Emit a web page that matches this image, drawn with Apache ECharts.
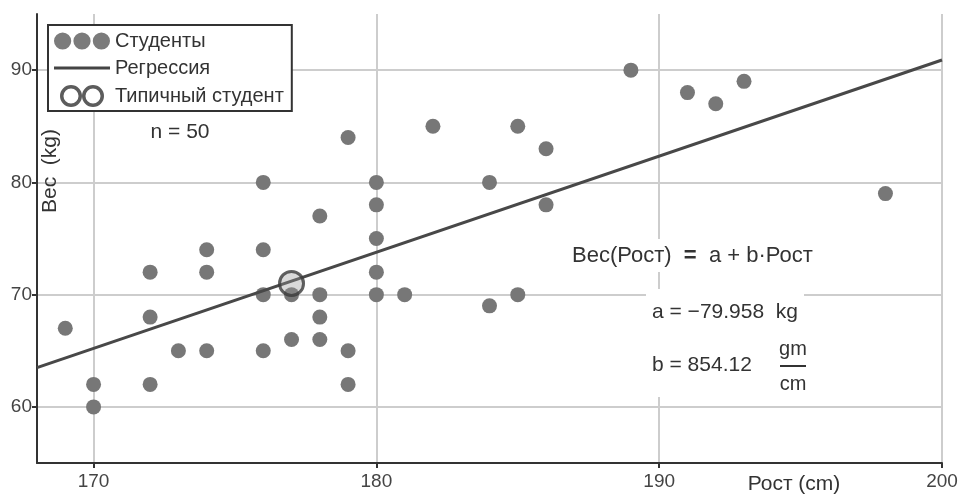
<!DOCTYPE html>
<html>
<head>
<meta charset="utf-8">
<script src="https://cdn.jsdelivr.net/npm/echarts@6/dist/echarts.min.js"></script>
<style>
  html, body { margin: 0; padding: 0; background: #fff; }
  #chart { width: 965px; height: 495px; }
</style>
</head>
<body>
<div id="chart"></div>
<script>
// Students: height (cm) and weight (kg)
const studentHeight = [169, 170, 170, 172, 172, 172, 173, 174, 174, 174, 176, 176, 176, 176, 177, 177, 178, 178, 178, 178, 179, 179, 179, 180, 180, 180, 180, 180, 181, 182, 184, 184, 185, 185, 186, 186, 189, 191, 192, 193, 198];
const studentWeight = [67, 62, 60, 72, 68, 62, 65, 74, 72, 65, 80, 74, 70, 65, 70, 66, 77, 70, 68, 66, 84, 65, 62, 80, 78, 75, 72, 70, 70, 85, 80, 69, 85, 70, 83, 78, 90, 88, 87, 89, 79];
// Regression line end points
const regHeight = [168, 200];
const regWeight = [63.5, 90.9];
// Typical student
const typicalHeight = [177];
const typicalWeight = [71];
// Axis ticks
const xTicks = [170, 180, 190, 200];
const yTicks = [60, 70, 80, 90];

const FONT = 'Liberation Sans, Arial, sans-serif';
const chart = echarts.init(document.getElementById('chart'));

const students = studentHeight.map((h, i) => [h, studentWeight[i]]);
const reg = regHeight.map((h, i) => [h, regWeight[i]]);
const typical = typicalHeight.map((h, i) => [h, typicalWeight[i]]);

const dotsIcon = 'path://M8,0A8,8,0,1,1,8,16A8,8,0,1,1,8,0ZM26,0A8,8,0,1,1,26,16A8,8,0,1,1,26,0ZM44,0A8,8,0,1,1,44,16A8,8,0,1,1,44,0Z';
const lineIcon = 'path://M0,0H52V3H0Z';
const ringsIcon = 'path://M12,0A12,12,0,1,1,12,24A12,12,0,1,1,12,0ZM12,3.8A8.2,8.2,0,1,0,12,20.2A8.2,8.2,0,1,0,12,3.8ZM36,0A12,12,0,1,1,36,24A12,12,0,1,1,36,0ZM36,3.8A8.2,8.2,0,1,0,36,20.2A8.2,8.2,0,1,0,36,3.8Z';

const axisCommon = {
  type: 'value',
  axisLine: { show: true, onZero: false, lineStyle: { color: '#333', width: 2 } },
  axisTick: { show: true, length: 5, lineStyle: { color: '#333', width: 2 } },
  axisLabel: { fontSize: 19, color: '#444', fontFamily: FONT },
  splitLine: { show: true, lineStyle: { color: '#cdcdcd', width: 2 } }
};

chart.setOption({
  animation: false,
  backgroundColor: '#fff',
  grid: { left: 37, right: 23, top: 14, bottom: 32, containLabel: false },
  xAxis: Object.assign({}, axisCommon, {
    min: 168, max: 200,
    axisTick: Object.assign({}, axisCommon.axisTick, { customValues: xTicks }),
    axisLabel: Object.assign({}, axisCommon.axisLabel, { customValues: xTicks, margin: 9 })
  }),
  yAxis: Object.assign({}, axisCommon, {
    min: 55, max: 95,
    axisTick: Object.assign({}, axisCommon.axisTick, { customValues: yTicks }),
    axisLabel: Object.assign({}, axisCommon.axisLabel, { customValues: yTicks, margin: 5 })
  }),
  legend: {
    orient: 'vertical',
    left: 48, top: 25,
    padding: [6, 8, 4, 6],
    itemGap: 7,
    itemWidth: 56, itemHeight: 22,
    backgroundColor: '#fff',
    borderColor: '#333', borderWidth: 2, borderRadius: 0,
    textStyle: { fontSize: 20, color: '#333', fontFamily: FONT },
    data: [
      { name: 'Студенты', icon: dotsIcon, itemStyle: { color: '#7b7b7b', borderWidth: 0 } },
      { name: 'Регрессия', icon: lineIcon, itemStyle: { color: '#444', borderWidth: 0 } },
      { name: 'Типичный студент', icon: ringsIcon, itemStyle: { color: '#333', borderWidth: 0 } }
    ],
    selectedMode: false
  },
  series: [
    {
      name: 'Студенты', type: 'scatter', data: students,
      symbol: 'circle', symbolSize: 15,
      itemStyle: { color: '#777', opacity: 1 }, z: 2
    },
    {
      name: 'Регрессия', type: 'line', data: reg,
      symbol: 'none', lineStyle: { color: '#484848', width: 3 },
      itemStyle: { color: '#484848' }, z: 3
    },
    {
      name: 'Типичный студент', type: 'scatter', data: typical,
      symbol: 'circle', symbolSize: 24,
      itemStyle: { color: 'rgba(150,150,150,0.45)', borderColor: '#3a3a3a', borderWidth: 3 }, z: 4
    }
  ],
  graphic: [
    { type: 'text', z: 5, x: 180, y: 132, style: { text: 'n = 50', font: '21px ' + FONT, fill: '#333', align: 'center', verticalAlign: 'middle' } },
    { type: 'text', z: 5, x: 50, y: 171, rotation: Math.PI / 2, style: { text: 'Вес  (kg)', font: '21px ' + FONT, fill: '#333', align: 'center', verticalAlign: 'middle' } },
    { type: 'text', z: 5, x: 794, y: 484, style: { text: 'Рост (cm)', font: '21px ' + FONT, fill: '#333', align: 'center', verticalAlign: 'middle' } },
    { type: 'rect', z: 1, shape: { x: 566, y: 239, width: 250, height: 33 }, style: { fill: '#fff' } },
    { type: 'rect', z: 1, shape: { x: 646, y: 289, width: 158, height: 108 }, style: { fill: '#fff' } },
    { type: 'text', z: 5, x: 572, y: 256, style: {
        text: '{n|Вес(Рост)  }{b|=}{n|  a + b·Рост}', verticalAlign: 'middle',
        rich: { n: { font: '22px ' + FONT, fill: '#333' }, b: { font: 'bold 22px ' + FONT, fill: '#333' } }
    } },
    { type: 'text', z: 5, x: 652, y: 312, style: { text: 'a = −79.958  kg', font: '21px ' + FONT, fill: '#333', verticalAlign: 'middle' } },
    { type: 'text', z: 5, x: 652, y: 365, style: { text: 'b = 854.12', font: '21px ' + FONT, fill: '#333', verticalAlign: 'middle' } },
    { type: 'text', z: 5, x: 793, y: 349, style: { text: 'gm', font: '20px ' + FONT, fill: '#333', align: 'center', verticalAlign: 'middle' } },
    { type: 'line', z: 5, shape: { x1: 780, y1: 366, x2: 806, y2: 366 }, style: { stroke: '#333', lineWidth: 2 } },
    { type: 'text', z: 5, x: 793, y: 384, style: { text: 'cm', font: '20px ' + FONT, fill: '#333', align: 'center', verticalAlign: 'middle' } }
  ]
});
</script>
</body>
</html>
